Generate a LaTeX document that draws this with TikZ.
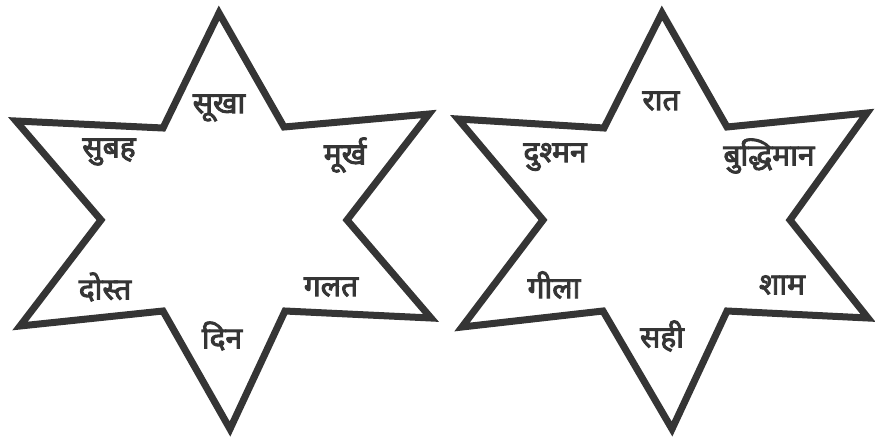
\documentclass[tikz,border=0pt]{standalone}
\usepackage{fontspec}
\newfontfamily\deva[Script=Devanagari,FakeBold=3]{Noto Sans}
\definecolor{ink}{HTML}{353535}
\tikzset{
  starline/.style={draw=ink, line width=7pt, line join=miter, miter limit=10},
  word/.style={font=\deva\fontsize{30}{34}\selectfont, text=ink, inner sep=0pt}
}
\begin{document}
\begin{tikzpicture}[x=1pt,y=-1pt]
\useasboundingbox (0,0) rectangle (875,437);
% left star
\draw[starline] (219,13) -- (284,127) -- (429,114) -- (347,220) -- (431,318) -- (285,311)
  -- (230,429) -- (163,311) -- (20,326) -- (101,220) -- (16,121) -- (163,128) -- cycle;
% right star
\draw[starline] (662,13) -- (727,127) -- (867,113) -- (790,220) -- (868,318) -- (727,311)
  -- (672,429) -- (603,311) -- (462,327) -- (543,220) -- (458,119) -- (604,128) -- cycle;
% left words
\node[word] (w1) at (219,108) {सूखा};
\node[word] (w2) at (109,152) {सुबह};
\node[word] (w3) at (345,155) {मूर्ख};
\node[word] (w4) at (105,287) {दोस्त};
\node[word] (w5) at (331,287) {गलत};
\node[word] (w6) at (222,336) {दिन};
% right words
\node[word] (w7) at (661,101) {रात};
\node[word] (w8) at (555,157) {दुश्मन};
\node[word] (w9) at (769,156) {बुद्धिमान};
\node[word] (w10) at (554,285) {गीला};
\node[word] (w11) at (782,285) {शाम};
\node[word] (w12) at (662,336) {सही};
\end{tikzpicture}
\end{document}
